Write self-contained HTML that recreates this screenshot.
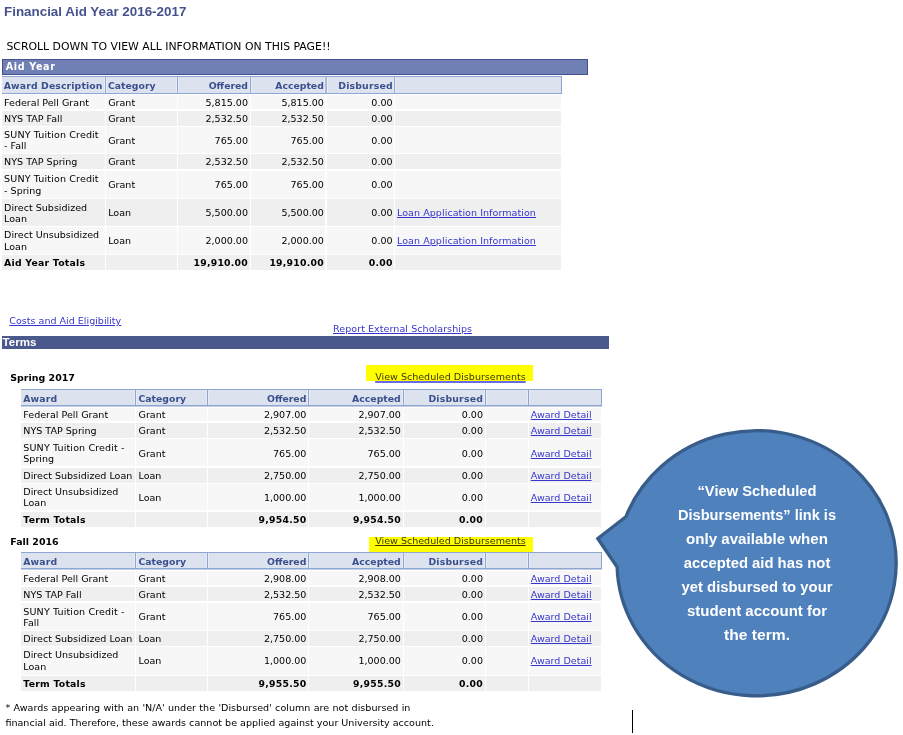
<!DOCTYPE html>
<html lang="en"><head><meta charset="utf-8"><title>Financial Aid Year 2016-2017</title>
<style>
html,body{margin:0;padding:0;background:#fff;}
body{width:903px;height:735px;position:relative;overflow:hidden;font-family:"DejaVu Sans","Liberation Sans",sans-serif;font-size:9.55px;color:#000;}
.abs{position:absolute;}
.t{position:absolute;white-space:nowrap;line-height:11px;}
.r{text-align:right;}
.title{left:4px;top:3.8px;font:bold 13.4px "Liberation Sans",sans-serif;color:#46528e;line-height:16px;}
.scroll{left:6.4px;top:40.4px;font-size:10.88px;line-height:13px;}
.bar1{left:2px;top:59px;width:586px;height:16px;box-sizing:border-box;background:#7080b5;border:1px solid #424f90;}
.bar1 span{position:absolute;left:2.7px;top:0px;font-weight:bold;font-size:9.6px;line-height:13px;color:#fff;letter-spacing:0.65px;}
.bar2{left:2px;top:336px;width:607px;height:13px;background:#4a598c;}
.bar2 span{position:absolute;left:0.6px;top:-1px;font:bold 11.6px "Liberation Sans",sans-serif;line-height:14px;color:#fff;}
.hc{position:absolute;box-sizing:border-box;background:#dce2ee;border:solid #8ea6d2;border-width:1px 1px 1px 0;}
.hs{position:absolute;background:#8ea6d2;box-shadow:-1px 0 0 #e8ecf5,1px 0 0 #e8ecf5;}
.hs2{background:#a9badb;}
.h{color:#3a4f8c;font-weight:bold;font-size:9.3px;}
.c{position:absolute;}
.o{background:#f7f7f7;}
.e{background:#efefef;}
.b{font-weight:bold;font-size:9.3px;letter-spacing:0.24px;}
.nm{font-weight:bold;font-size:9.46px;}
a{color:#3636cc;text-decoration:underline;}
a.y{color:#3a3608;text-decoration-color:#6a6ae6;text-decoration-thickness:1.6px;}
a.y2{color:#3a3608;}
.hl{position:absolute;background:#ffff00;}
.fn{font-size:9.58px;}
</style></head>
<body>
<div class="t title">Financial Aid Year 2016-2017</div>
<div class="t scroll">SCROLL DOWN TO VIEW ALL INFORMATION ON THIS PAGE!!</div>
<div class="abs bar1"><span>Aid Year</span></div>
<div role="table" aria-label="Aid Year">
<div role="row">
<div class="hc" style="left:2px;top:76px;width:560px;height:18px"></div>
<div class="hs" style="left:105px;top:77px;width:1px;height:16px"></div>
<div class="hs" style="left:177px;top:77px;width:1px;height:16px"></div>
<div class="hs" style="left:250px;top:77px;width:1px;height:16px"></div>
<div class="hs hs2" style="left:325px;top:77px;width:2px;height:16px"></div>
<div class="hs" style="left:394px;top:77px;width:1px;height:16px"></div>
<div class="t h" style="left:3.80px;top:80px;letter-spacing:0.12px">Award Description</div>
<div class="t h" style="left:108.00px;top:80px">Category</div>
<div class="t r h" style="right:655.00px;top:80px">Offered</div>
<div class="t r h" style="right:579.20px;top:80px">Accepted</div>
<div class="t r h" style="right:510.20px;top:80px;letter-spacing:0.2px">Disbursed</div>
</div>
<div role="row">
<div class="c o" style="left:2px;top:95px;width:103px;height:14.0px"></div>
<div class="t" style="left:4.10px;top:97px">Federal Pell Grant</div>
<div class="c o" style="left:106px;top:95px;width:71px;height:14.0px"></div>
<div class="t" style="left:108.20px;top:97px">Grant</div>
<div class="c o" style="left:178px;top:95px;width:72px;height:14.0px"></div>
<div class="t r" style="right:655.00px;top:97px">5,815.00</div>
<div class="c o" style="left:251px;top:95px;width:74px;height:14.0px"></div>
<div class="t r" style="right:579.10px;top:97px">5,815.00</div>
<div class="c o" style="left:327px;top:95px;width:67px;height:14.0px"></div>
<div class="t r" style="right:510.40px;top:97px">0.00</div>
<div class="c o" style="left:395px;top:95px;width:166px;height:14.0px"></div>
</div>
<div role="row">
<div class="c e" style="left:2px;top:110.5px;width:103px;height:15.2px"></div>
<div class="t" style="left:4.10px;top:113px">NYS TAP Fall</div>
<div class="c e" style="left:106px;top:110.5px;width:71px;height:15.2px"></div>
<div class="t" style="left:108.20px;top:113px">Grant</div>
<div class="c e" style="left:178px;top:110.5px;width:72px;height:15.2px"></div>
<div class="t r" style="right:655.00px;top:113px">2,532.50</div>
<div class="c e" style="left:251px;top:110.5px;width:74px;height:15.2px"></div>
<div class="t r" style="right:579.10px;top:113px">2,532.50</div>
<div class="c e" style="left:327px;top:110.5px;width:67px;height:15.2px"></div>
<div class="t r" style="right:510.40px;top:113px">0.00</div>
<div class="c e" style="left:395px;top:110.5px;width:166px;height:15.2px"></div>
</div>
<div role="row">
<div class="c o" style="left:2px;top:127px;width:103px;height:25.6px"></div>
<div class="t" style="left:4.10px;top:129px;letter-spacing:0.13px">SUNY Tuition Credit</div>
<div class="t" style="left:4.10px;top:140px">- Fall</div>
<div class="c o" style="left:106px;top:127px;width:71px;height:25.6px"></div>
<div class="t" style="left:108.20px;top:135px">Grant</div>
<div class="c o" style="left:178px;top:127px;width:72px;height:25.6px"></div>
<div class="t r" style="right:655.00px;top:135px">765.00</div>
<div class="c o" style="left:251px;top:127px;width:74px;height:25.6px"></div>
<div class="t r" style="right:579.10px;top:135px">765.00</div>
<div class="c o" style="left:327px;top:127px;width:67px;height:25.6px"></div>
<div class="t r" style="right:510.40px;top:135px">0.00</div>
<div class="c o" style="left:395px;top:127px;width:166px;height:25.6px"></div>
</div>
<div role="row">
<div class="c e" style="left:2px;top:154.3px;width:103px;height:15.1px"></div>
<div class="t" style="left:4.10px;top:156px">NYS TAP Spring</div>
<div class="c e" style="left:106px;top:154.3px;width:71px;height:15.1px"></div>
<div class="t" style="left:108.20px;top:156px">Grant</div>
<div class="c e" style="left:178px;top:154.3px;width:72px;height:15.1px"></div>
<div class="t r" style="right:655.00px;top:156px">2,532.50</div>
<div class="c e" style="left:251px;top:154.3px;width:74px;height:15.1px"></div>
<div class="t r" style="right:579.10px;top:156px">2,532.50</div>
<div class="c e" style="left:327px;top:154.3px;width:67px;height:15.1px"></div>
<div class="t r" style="right:510.40px;top:156px">0.00</div>
<div class="c e" style="left:395px;top:154.3px;width:166px;height:15.1px"></div>
</div>
<div role="row">
<div class="c o" style="left:2px;top:171px;width:103px;height:26.7px"></div>
<div class="t" style="left:4.10px;top:173px;letter-spacing:0.13px">SUNY Tuition Credit</div>
<div class="t" style="left:4.10px;top:185px">- Spring</div>
<div class="c o" style="left:106px;top:171px;width:71px;height:26.7px"></div>
<div class="t" style="left:108.20px;top:179px">Grant</div>
<div class="c o" style="left:178px;top:171px;width:72px;height:26.7px"></div>
<div class="t r" style="right:655.00px;top:179px">765.00</div>
<div class="c o" style="left:251px;top:171px;width:74px;height:26.7px"></div>
<div class="t r" style="right:579.10px;top:179px">765.00</div>
<div class="c o" style="left:327px;top:171px;width:67px;height:26.7px"></div>
<div class="t r" style="right:510.40px;top:179px">0.00</div>
<div class="c o" style="left:395px;top:171px;width:166px;height:26.7px"></div>
</div>
<div role="row">
<div class="c e" style="left:2px;top:199.3px;width:103px;height:26.4px"></div>
<div class="t" style="left:4.10px;top:202px">Direct Subsidized</div>
<div class="t" style="left:4.10px;top:213px">Loan</div>
<div class="c e" style="left:106px;top:199.3px;width:71px;height:26.4px"></div>
<div class="t" style="left:108.20px;top:207px">Loan</div>
<div class="c e" style="left:178px;top:199.3px;width:72px;height:26.4px"></div>
<div class="t r" style="right:655.00px;top:207px">5,500.00</div>
<div class="c e" style="left:251px;top:199.3px;width:74px;height:26.4px"></div>
<div class="t r" style="right:579.10px;top:207px">5,500.00</div>
<div class="c e" style="left:327px;top:199.3px;width:67px;height:26.4px"></div>
<div class="t r" style="right:510.40px;top:207px">0.00</div>
<div class="c e" style="left:395px;top:199.3px;width:166px;height:26.4px"></div>
<div class="t" style="left:397.00px;top:207px"><a style="letter-spacing:0.05px">Loan Application Information</a></div>
</div>
<div role="row">
<div class="c o" style="left:2px;top:227.4px;width:103px;height:26.3px"></div>
<div class="t" style="left:4.10px;top:229px">Direct Unsubsidized</div>
<div class="t" style="left:4.10px;top:241px">Loan</div>
<div class="c o" style="left:106px;top:227.4px;width:71px;height:26.3px"></div>
<div class="t" style="left:108.20px;top:235px">Loan</div>
<div class="c o" style="left:178px;top:227.4px;width:72px;height:26.3px"></div>
<div class="t r" style="right:655.00px;top:235px">2,000.00</div>
<div class="c o" style="left:251px;top:227.4px;width:74px;height:26.3px"></div>
<div class="t r" style="right:579.10px;top:235px">2,000.00</div>
<div class="c o" style="left:327px;top:227.4px;width:67px;height:26.3px"></div>
<div class="t r" style="right:510.40px;top:235px">0.00</div>
<div class="c o" style="left:395px;top:227.4px;width:166px;height:26.3px"></div>
<div class="t" style="left:397.00px;top:235px"><a style="letter-spacing:0.05px">Loan Application Information</a></div>
</div>
<div role="row">
<div class="c e" style="left:2px;top:255.1px;width:103px;height:14.7px"></div>
<div class="t b" style="left:4.10px;top:257px">Aid Year Totals</div>
<div class="c e" style="left:106px;top:255.1px;width:71px;height:14.7px"></div>
<div class="c e" style="left:178px;top:255.1px;width:72px;height:14.7px"></div>
<div class="t r b" style="right:655.00px;top:257px">19,910.00</div>
<div class="c e" style="left:251px;top:255.1px;width:74px;height:14.7px"></div>
<div class="t r b" style="right:579.10px;top:257px">19,910.00</div>
<div class="c e" style="left:327px;top:255.1px;width:67px;height:14.7px"></div>
<div class="t r b" style="right:510.40px;top:257px">0.00</div>
<div class="c e" style="left:395px;top:255.1px;width:166px;height:14.7px"></div>
</div>
</div>
<div class="t" style="left:9.30px;top:315px"><a>Costs and Aid Eligibility</a></div>
<div class="t" style="left:333.00px;top:323px;letter-spacing:0.05px"><a>Report External Scholarships</a></div>
<div class="abs bar2"><span>Terms</span></div>
<div class="t nm" style="left:10.30px;top:372px">Spring 2017</div>
<div class="hl" style="left:366px;top:365.1px;width:166.8px;height:15.5px"></div>
<div class="t" style="left:375.20px;top:371px"><a class="y">View Scheduled Disbursements</a></div>
<div role="table" aria-label="Spring 2017">
<div role="row">
<div class="hc" style="left:21px;top:389px;width:581px;height:17px;box-shadow:0 1px 0 #c3cee5"></div>
<div class="hs" style="left:135px;top:390px;width:1px;height:15px"></div>
<div class="hs" style="left:207px;top:390px;width:1px;height:15px"></div>
<div class="hs" style="left:308px;top:390px;width:1px;height:15px"></div>
<div class="hs" style="left:403px;top:390px;width:1px;height:15px"></div>
<div class="hs" style="left:485px;top:390px;width:1px;height:15px"></div>
<div class="hs" style="left:528px;top:390px;width:1px;height:15px"></div>
<div class="t h" style="left:23.20px;top:393px;letter-spacing:0.15px">Award</div>
<div class="t h" style="left:138.50px;top:393px">Category</div>
<div class="t r h" style="right:596.70px;top:393px">Offered</div>
<div class="t r h" style="right:502.30px;top:393px">Accepted</div>
<div class="t r h" style="right:420.00px;top:393px;letter-spacing:0.2px">Disbursed</div>
</div>
<div role="row">
<div class="c o" style="left:21px;top:407.6px;width:114px;height:13.9px"></div>
<div class="t" style="left:23.30px;top:409px">Federal Pell Grant</div>
<div class="c o" style="left:136px;top:407.6px;width:71px;height:13.9px"></div>
<div class="t" style="left:138.50px;top:409px">Grant</div>
<div class="c o" style="left:208px;top:407.6px;width:100px;height:13.9px"></div>
<div class="t r" style="right:596.60px;top:409px">2,907.00</div>
<div class="c o" style="left:309px;top:407.6px;width:94px;height:13.9px"></div>
<div class="t r" style="right:502.10px;top:409px">2,907.00</div>
<div class="c o" style="left:404px;top:407.6px;width:81px;height:13.9px"></div>
<div class="t r" style="right:420.00px;top:409px">0.00</div>
<div class="c o" style="left:486px;top:407.6px;width:42px;height:13.9px"></div>
<div class="c o" style="left:529px;top:407.6px;width:72px;height:13.9px"></div>
<div class="t" style="left:530.80px;top:409px"><a>Award Detail</a></div>
</div>
<div role="row">
<div class="c e" style="left:21px;top:423.1px;width:114px;height:14.7px"></div>
<div class="t" style="left:23.30px;top:425px">NYS TAP Spring</div>
<div class="c e" style="left:136px;top:423.1px;width:71px;height:14.7px"></div>
<div class="t" style="left:138.50px;top:425px">Grant</div>
<div class="c e" style="left:208px;top:423.1px;width:100px;height:14.7px"></div>
<div class="t r" style="right:596.60px;top:425px">2,532.50</div>
<div class="c e" style="left:309px;top:423.1px;width:94px;height:14.7px"></div>
<div class="t r" style="right:502.10px;top:425px">2,532.50</div>
<div class="c e" style="left:404px;top:423.1px;width:81px;height:14.7px"></div>
<div class="t r" style="right:420.00px;top:425px">0.00</div>
<div class="c e" style="left:486px;top:423.1px;width:42px;height:14.7px"></div>
<div class="c e" style="left:529px;top:423.1px;width:72px;height:14.7px"></div>
<div class="t" style="left:530.80px;top:425px"><a>Award Detail</a></div>
</div>
<div role="row">
<div class="c o" style="left:21px;top:439.4px;width:114px;height:26.9px"></div>
<div class="t" style="left:23.30px;top:442px;letter-spacing:0.13px">SUNY Tuition Credit -</div>
<div class="t" style="left:23.30px;top:453px">Spring</div>
<div class="c o" style="left:136px;top:439.4px;width:71px;height:26.9px"></div>
<div class="t" style="left:138.50px;top:448px">Grant</div>
<div class="c o" style="left:208px;top:439.4px;width:100px;height:26.9px"></div>
<div class="t r" style="right:596.60px;top:448px">765.00</div>
<div class="c o" style="left:309px;top:439.4px;width:94px;height:26.9px"></div>
<div class="t r" style="right:502.10px;top:448px">765.00</div>
<div class="c o" style="left:404px;top:439.4px;width:81px;height:26.9px"></div>
<div class="t r" style="right:420.00px;top:448px">0.00</div>
<div class="c o" style="left:486px;top:439.4px;width:42px;height:26.9px"></div>
<div class="c o" style="left:529px;top:439.4px;width:72px;height:26.9px"></div>
<div class="t" style="left:530.80px;top:448px"><a>Award Detail</a></div>
</div>
<div role="row">
<div class="c e" style="left:21px;top:467.9px;width:114px;height:14.9px"></div>
<div class="t" style="left:23.30px;top:470px">Direct Subsidized Loan</div>
<div class="c e" style="left:136px;top:467.9px;width:71px;height:14.9px"></div>
<div class="t" style="left:138.50px;top:470px">Loan</div>
<div class="c e" style="left:208px;top:467.9px;width:100px;height:14.9px"></div>
<div class="t r" style="right:596.60px;top:470px">2,750.00</div>
<div class="c e" style="left:309px;top:467.9px;width:94px;height:14.9px"></div>
<div class="t r" style="right:502.10px;top:470px">2,750.00</div>
<div class="c e" style="left:404px;top:467.9px;width:81px;height:14.9px"></div>
<div class="t r" style="right:420.00px;top:470px">0.00</div>
<div class="c e" style="left:486px;top:467.9px;width:42px;height:14.9px"></div>
<div class="c e" style="left:529px;top:467.9px;width:72px;height:14.9px"></div>
<div class="t" style="left:530.80px;top:470px"><a>Award Detail</a></div>
</div>
<div role="row">
<div class="c o" style="left:21px;top:484.4px;width:114px;height:25.7px"></div>
<div class="t" style="left:23.30px;top:486px">Direct Unsubsidized</div>
<div class="t" style="left:23.30px;top:497px">Loan</div>
<div class="c o" style="left:136px;top:484.4px;width:71px;height:25.7px"></div>
<div class="t" style="left:138.50px;top:492px">Loan</div>
<div class="c o" style="left:208px;top:484.4px;width:100px;height:25.7px"></div>
<div class="t r" style="right:596.60px;top:492px">1,000.00</div>
<div class="c o" style="left:309px;top:484.4px;width:94px;height:25.7px"></div>
<div class="t r" style="right:502.10px;top:492px">1,000.00</div>
<div class="c o" style="left:404px;top:484.4px;width:81px;height:25.7px"></div>
<div class="t r" style="right:420.00px;top:492px">0.00</div>
<div class="c o" style="left:486px;top:484.4px;width:42px;height:25.7px"></div>
<div class="c o" style="left:529px;top:484.4px;width:72px;height:25.7px"></div>
<div class="t" style="left:530.80px;top:492px"><a>Award Detail</a></div>
</div>
<div role="row">
<div class="c e" style="left:21px;top:511.7px;width:114px;height:15.0px"></div>
<div class="t b" style="left:23.30px;top:514px">Term Totals</div>
<div class="c e" style="left:136px;top:511.7px;width:71px;height:15.0px"></div>
<div class="c e" style="left:208px;top:511.7px;width:100px;height:15.0px"></div>
<div class="t r b" style="right:596.60px;top:514px">9,954.50</div>
<div class="c e" style="left:309px;top:511.7px;width:94px;height:15.0px"></div>
<div class="t r b" style="right:502.10px;top:514px">9,954.50</div>
<div class="c e" style="left:404px;top:511.7px;width:81px;height:15.0px"></div>
<div class="t r b" style="right:420.00px;top:514px">0.00</div>
<div class="c e" style="left:486px;top:511.7px;width:42px;height:15.0px"></div>
<div class="c e" style="left:529px;top:511.7px;width:72px;height:15.0px"></div>
</div>
</div>
<div class="t nm" style="left:10.30px;top:536px">Fall 2016</div>
<div class="hl" style="left:369.3px;top:537px;width:163.5px;height:15.4px"></div>
<div class="t" style="left:375.20px;top:535px"><a class="y2">View Scheduled Disbursements</a></div>
<div role="table" aria-label="Fall 2016">
<div role="row">
<div class="hc" style="left:21px;top:552px;width:581px;height:17px;box-shadow:0 1px 0 #c3cee5"></div>
<div class="hs" style="left:135px;top:553px;width:1px;height:15px"></div>
<div class="hs" style="left:207px;top:553px;width:1px;height:15px"></div>
<div class="hs" style="left:308px;top:553px;width:1px;height:15px"></div>
<div class="hs" style="left:403px;top:553px;width:1px;height:15px"></div>
<div class="hs" style="left:485px;top:553px;width:1px;height:15px"></div>
<div class="hs" style="left:528px;top:553px;width:1px;height:15px"></div>
<div class="t h" style="left:23.20px;top:556px;letter-spacing:0.15px">Award</div>
<div class="t h" style="left:138.50px;top:556px">Category</div>
<div class="t r h" style="right:596.70px;top:556px">Offered</div>
<div class="t r h" style="right:502.30px;top:556px">Accepted</div>
<div class="t r h" style="right:420.00px;top:556px;letter-spacing:0.2px">Disbursed</div>
</div>
<div role="row">
<div class="c o" style="left:21px;top:571.1px;width:114px;height:14.4px"></div>
<div class="t" style="left:23.30px;top:573px">Federal Pell Grant</div>
<div class="c o" style="left:136px;top:571.1px;width:71px;height:14.4px"></div>
<div class="t" style="left:138.50px;top:573px">Grant</div>
<div class="c o" style="left:208px;top:571.1px;width:100px;height:14.4px"></div>
<div class="t r" style="right:596.60px;top:573px">2,908.00</div>
<div class="c o" style="left:309px;top:571.1px;width:94px;height:14.4px"></div>
<div class="t r" style="right:502.10px;top:573px">2,908.00</div>
<div class="c o" style="left:404px;top:571.1px;width:81px;height:14.4px"></div>
<div class="t r" style="right:420.00px;top:573px">0.00</div>
<div class="c o" style="left:486px;top:571.1px;width:42px;height:14.4px"></div>
<div class="c o" style="left:529px;top:571.1px;width:72px;height:14.4px"></div>
<div class="t" style="left:530.80px;top:573px"><a>Award Detail</a></div>
</div>
<div role="row">
<div class="c e" style="left:21px;top:587.1px;width:114px;height:14.4px"></div>
<div class="t" style="left:23.30px;top:589px">NYS TAP Fall</div>
<div class="c e" style="left:136px;top:587.1px;width:71px;height:14.4px"></div>
<div class="t" style="left:138.50px;top:589px">Grant</div>
<div class="c e" style="left:208px;top:587.1px;width:100px;height:14.4px"></div>
<div class="t r" style="right:596.60px;top:589px">2,532.50</div>
<div class="c e" style="left:309px;top:587.1px;width:94px;height:14.4px"></div>
<div class="t r" style="right:502.10px;top:589px">2,532.50</div>
<div class="c e" style="left:404px;top:587.1px;width:81px;height:14.4px"></div>
<div class="t r" style="right:420.00px;top:589px">0.00</div>
<div class="c e" style="left:486px;top:587.1px;width:42px;height:14.4px"></div>
<div class="c e" style="left:529px;top:587.1px;width:72px;height:14.4px"></div>
<div class="t" style="left:530.80px;top:589px"><a>Award Detail</a></div>
</div>
<div role="row">
<div class="c o" style="left:21px;top:603.1px;width:114px;height:26.6px"></div>
<div class="t" style="left:23.30px;top:606px;letter-spacing:0.13px">SUNY Tuition Credit -</div>
<div class="t" style="left:23.30px;top:617px">Fall</div>
<div class="c o" style="left:136px;top:603.1px;width:71px;height:26.6px"></div>
<div class="t" style="left:138.50px;top:611px">Grant</div>
<div class="c o" style="left:208px;top:603.1px;width:100px;height:26.6px"></div>
<div class="t r" style="right:596.60px;top:611px">765.00</div>
<div class="c o" style="left:309px;top:603.1px;width:94px;height:26.6px"></div>
<div class="t r" style="right:502.10px;top:611px">765.00</div>
<div class="c o" style="left:404px;top:603.1px;width:81px;height:26.6px"></div>
<div class="t r" style="right:420.00px;top:611px">0.00</div>
<div class="c o" style="left:486px;top:603.1px;width:42px;height:26.6px"></div>
<div class="c o" style="left:529px;top:603.1px;width:72px;height:26.6px"></div>
<div class="t" style="left:530.80px;top:611px"><a>Award Detail</a></div>
</div>
<div role="row">
<div class="c e" style="left:21px;top:631.1px;width:114px;height:14.6px"></div>
<div class="t" style="left:23.30px;top:633px">Direct Subsidized Loan</div>
<div class="c e" style="left:136px;top:631.1px;width:71px;height:14.6px"></div>
<div class="t" style="left:138.50px;top:633px">Loan</div>
<div class="c e" style="left:208px;top:631.1px;width:100px;height:14.6px"></div>
<div class="t r" style="right:596.60px;top:633px">2,750.00</div>
<div class="c e" style="left:309px;top:631.1px;width:94px;height:14.6px"></div>
<div class="t r" style="right:502.10px;top:633px">2,750.00</div>
<div class="c e" style="left:404px;top:631.1px;width:81px;height:14.6px"></div>
<div class="t r" style="right:420.00px;top:633px">0.00</div>
<div class="c e" style="left:486px;top:631.1px;width:42px;height:14.6px"></div>
<div class="c e" style="left:529px;top:631.1px;width:72px;height:14.6px"></div>
<div class="t" style="left:530.80px;top:633px"><a>Award Detail</a></div>
</div>
<div role="row">
<div class="c o" style="left:21px;top:647.2px;width:114px;height:27.4px"></div>
<div class="t" style="left:23.30px;top:649px">Direct Unsubsidized</div>
<div class="t" style="left:23.30px;top:661px">Loan</div>
<div class="c o" style="left:136px;top:647.2px;width:71px;height:27.4px"></div>
<div class="t" style="left:138.50px;top:655px">Loan</div>
<div class="c o" style="left:208px;top:647.2px;width:100px;height:27.4px"></div>
<div class="t r" style="right:596.60px;top:655px">1,000.00</div>
<div class="c o" style="left:309px;top:647.2px;width:94px;height:27.4px"></div>
<div class="t r" style="right:502.10px;top:655px">1,000.00</div>
<div class="c o" style="left:404px;top:647.2px;width:81px;height:27.4px"></div>
<div class="t r" style="right:420.00px;top:655px">0.00</div>
<div class="c o" style="left:486px;top:647.2px;width:42px;height:27.4px"></div>
<div class="c o" style="left:529px;top:647.2px;width:72px;height:27.4px"></div>
<div class="t" style="left:530.80px;top:655px"><a>Award Detail</a></div>
</div>
<div role="row">
<div class="c e" style="left:21px;top:676px;width:114px;height:15.0px"></div>
<div class="t b" style="left:23.30px;top:678px">Term Totals</div>
<div class="c e" style="left:136px;top:676px;width:71px;height:15.0px"></div>
<div class="c e" style="left:208px;top:676px;width:100px;height:15.0px"></div>
<div class="t r b" style="right:596.60px;top:678px">9,955.50</div>
<div class="c e" style="left:309px;top:676px;width:94px;height:15.0px"></div>
<div class="t r b" style="right:502.10px;top:678px">9,955.50</div>
<div class="c e" style="left:404px;top:676px;width:81px;height:15.0px"></div>
<div class="t r b" style="right:420.00px;top:678px">0.00</div>
<div class="c e" style="left:486px;top:676px;width:42px;height:15.0px"></div>
<div class="c e" style="left:529px;top:676px;width:72px;height:15.0px"></div>
</div>
</div>
<div class="t fn" style="left:5.40px;top:702px;word-spacing:0.3px">* Awards appearing with an 'N/A' under the 'Disbursed' column are not disbursed in</div>
<div class="t fn" style="left:5.40px;top:717px">financial aid. Therefore, these awards cannot be applied against your University account.</div>
<svg class="abs" style="left:590px;top:420px" width="313" height="290" viewBox="590 420 313 290">
<path d="M597.8 538.5 L625.89 516.8 A139.55 132.6 0 1 1 617.11 567.0 Z" fill="#4f81bd" stroke="#385d8a" stroke-width="3.3" stroke-linejoin="miter"/>
<g font-family="Liberation Sans, sans-serif" font-weight="bold" font-size="14.5" fill="#fff" text-anchor="middle">
<text x="757" y="495.5" textLength="119" lengthAdjust="spacingAndGlyphs">“View Scheduled</text>
<text x="757" y="519.5" textLength="158" lengthAdjust="spacingAndGlyphs">Disbursements” link is</text>
<text x="757" y="543.5" textLength="142" lengthAdjust="spacingAndGlyphs">only available when</text>
<text x="757" y="567.5" textLength="146.7" lengthAdjust="spacingAndGlyphs">accepted aid has not</text>
<text x="757" y="591.5" textLength="151" lengthAdjust="spacingAndGlyphs">yet disbursed to your</text>
<text x="757" y="615.5" textLength="140" lengthAdjust="spacingAndGlyphs">student account for</text>
<text x="757" y="639.5" textLength="66" lengthAdjust="spacingAndGlyphs">the term.</text>
</g></svg>
<div class="abs" style="left:632px;top:710px;width:1px;height:23px;background:#000"></div>
</body></html>
